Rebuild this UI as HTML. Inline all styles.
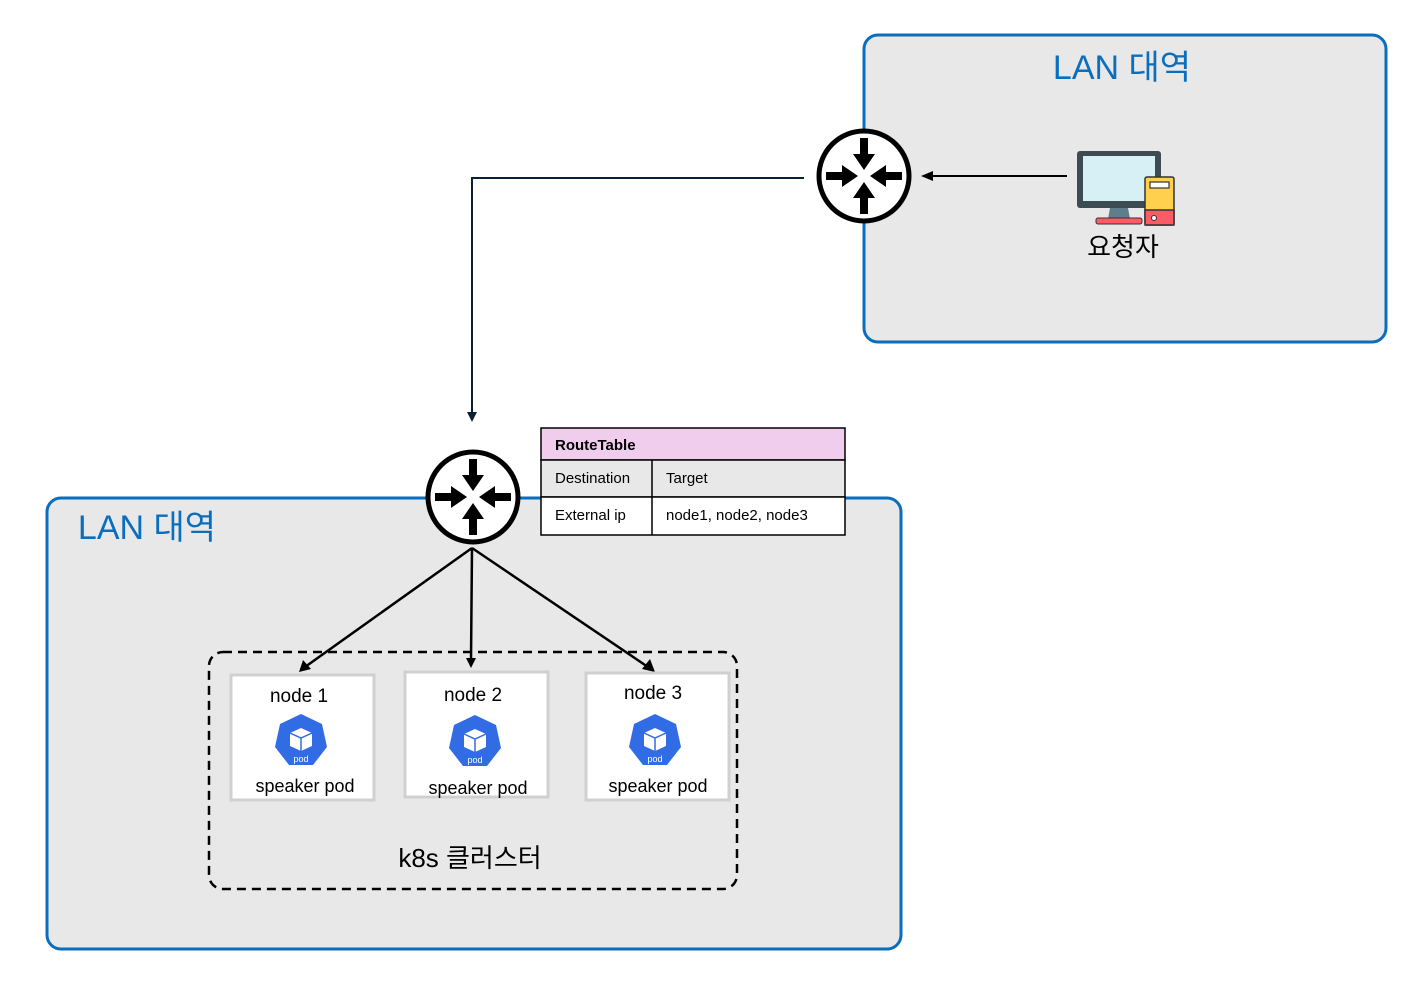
<!DOCTYPE html>
<html><head><meta charset="utf-8"><style>
body{margin:0;background:#fff;}
text{font-family:"Liberation Sans","Noto Sans CJK KR",sans-serif;}
</style></head><body>
<svg width="1416" height="984" viewBox="0 0 1416 984" xmlns="http://www.w3.org/2000/svg">
<defs>
<g id="arr"><path d="M-4,-38 L4,-38 L4,-22 L11,-22 L0,-6 L-11,-22 L-4,-22 Z" fill="#000"/></g>
<g id="router">
<circle r="45" fill="#fff" stroke="#000" stroke-width="5"/>
<use href="#arr"/><use href="#arr" transform="rotate(90)"/><use href="#arr" transform="rotate(180)"/><use href="#arr" transform="rotate(270)"/>
</g>
<g id="pod">
<polygon points="0,-27 21,-17 26,6 12,24 -12,24 -26,6 -21,-17" fill="#326ce5"/>
<path d="M0,-13 L11,-8 L11,5 L0,10 L-11,5 L-11,-8 Z" fill="#fff"/>
<path d="M-11,-8 L0,-3 L11,-8 M0,-3 L0,10" stroke="#326ce5" stroke-width="1.5" fill="none"/>
<text x="0" y="21" font-size="9" fill="#fff" text-anchor="middle">pod</text>
</g>
</defs>
<rect x="864" y="35" width="522" height="307" rx="14" fill="#e8e8e8" stroke="#0a6ebd" stroke-width="3"/>
<text x="1122" y="79" font-size="34" fill="#0a6ebd" text-anchor="middle">LAN 대역</text>
<rect x="47" y="498" width="854" height="451" rx="14" fill="#e8e8e8" stroke="#0a6ebd" stroke-width="3"/>
<text x="147" y="539" font-size="34" fill="#0a6ebd" text-anchor="middle">LAN 대역</text>
<!-- table -->
<rect x="541" y="428" width="304" height="32" fill="#f0cdec" stroke="#000" stroke-width="1.5"/>
<rect x="541" y="460" width="304" height="37" fill="#e8e8e8" stroke="#000" stroke-width="1.5"/>
<rect x="541" y="497" width="304" height="38" fill="#fff" stroke="#000" stroke-width="1.5"/>
<line x1="652" y1="460" x2="652" y2="535" stroke="#000" stroke-width="1.5"/>
<text x="555" y="450" font-size="15" font-weight="bold">RouteTable</text>
<text x="555" y="483" font-size="15">Destination</text>
<text x="666" y="483" font-size="15">Target</text>
<text x="555" y="520" font-size="15">External ip</text>
<text x="666" y="520" font-size="15">node1, node2, node3</text>
<!-- connectors -->
<polyline points="804,178 472,178 472,414" fill="none" stroke="#0b2035" stroke-width="2"/>
<path d="M467,412 L477,412 L472,422 Z" fill="#0b2035"/>
<line x1="1067" y1="176" x2="930" y2="176" stroke="#000" stroke-width="2"/>
<path d="M921,176 L933,171 L933,181 Z" fill="#000"/>
<use href="#router" x="864" y="176"/>
<use href="#router" x="473" y="497"/>
<!-- computer -->
<rect x="1077" y="151" width="84" height="57" rx="3" fill="#3d4b52"/>
<rect x="1083" y="156" width="72" height="45" fill="#d6f0f5"/>
<path d="M1110,208 L1128,208 L1130,219 L1108,219 Z" fill="#607d8b"/>
<rect x="1096" y="218" width="46" height="6" rx="2" fill="#ff5b66" stroke="#333" stroke-width="1"/>
<rect x="1145" y="177" width="29" height="48" rx="2" fill="#ffd04d" stroke="#333" stroke-width="1.5"/>
<rect x="1145" y="210" width="29" height="15" fill="#ff5b66" stroke="#333" stroke-width="1.5"/>
<rect x="1150" y="182" width="19" height="6" fill="#fff" stroke="#333" stroke-width="1.2"/>
<circle cx="1154" cy="218" r="2.5" fill="#fff" stroke="#333"/>
<text x="1123" y="256" font-size="26" text-anchor="middle">요청자</text>
<!-- cluster -->
<rect x="209" y="652" width="528" height="237" rx="14" fill="none" stroke="#000" stroke-width="2.5" stroke-dasharray="9,6"/>
<text x="470" y="867" font-size="26" text-anchor="middle">k8s 클러스터</text>
<g stroke="#000" stroke-width="2.5">
<line x1="472" y1="548" x2="305" y2="667"/>
<line x1="472" y1="548" x2="471" y2="660"/>
<line x1="472" y1="548" x2="648" y2="667"/>
</g>
<path d="M299,672 L303,660 L311,669 Z" fill="#000"/>
<path d="M466,658 L476,658 L471,668 Z" fill="#000"/>
<path d="M655,672 L642,669 L650,659 Z" fill="#000"/>
<rect x="231" y="675" width="143" height="125" fill="#fff" stroke="#d0d0d0" stroke-width="3"/>
<rect x="405" y="672" width="143" height="125" fill="#fff" stroke="#d0d0d0" stroke-width="3"/>
<rect x="586" y="673" width="143" height="127" fill="#fff" stroke="#d0d0d0" stroke-width="3"/>
<text x="299" y="702" font-size="19" text-anchor="middle">node 1</text>
<text x="473" y="701" font-size="19" text-anchor="middle">node 2</text>
<text x="653" y="699" font-size="19" text-anchor="middle">node 3</text>
<use href="#pod" x="301" y="741"/>
<use href="#pod" x="475" y="742"/>
<use href="#pod" x="655" y="741"/>
<text x="305" y="792" font-size="18" text-anchor="middle">speaker pod</text>
<text x="478" y="794" font-size="18" text-anchor="middle">speaker pod</text>
<text x="658" y="792" font-size="18" text-anchor="middle">speaker pod</text>
</svg>
</body></html>
